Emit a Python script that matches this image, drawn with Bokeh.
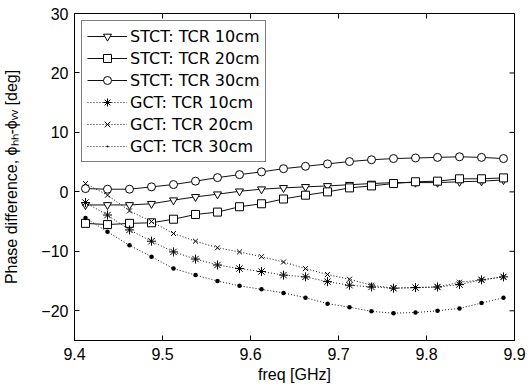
import math
from bokeh.plotting import figure
from bokeh.models import Range1d, FixedTicker, Legend
from bokeh.embed import file_html
from bokeh.resources import INLINE

freq = [9.4125 + 0.025 * i for i in range(20)]

stct_10 = [-2.2, -2.2, -2.2, -2.0, -1.4, -0.84, -0.4, 0.1, 0.45, 0.67,
           0.84, 1.0, 1.2, 1.4, 1.56, 1.56, 1.56, 1.7, 1.8, 2.0]
stct_20 = [-5.3, -5.5, -5.3, -5.2, -4.6, -3.8, -3.4, -2.5, -2.0, -1.2,
           -0.56, 0.0, 0.67, 1.0, 1.4, 1.7, 1.8, 2.2, 2.2, 2.35]
stct_30 = [0.55, 0.45, 0.45, 0.84, 1.23, 1.8, 2.4, 2.9, 3.36, 3.9,
           4.3, 4.7, 5.1, 5.4, 5.6, 5.7, 5.8, 5.9, 5.8, 5.6]
gct_10 = [-1.8, -3.9, -6.4, -8.3, -10.1, -11.3, -12.3, -12.9, -13.4, -14.0,
          -14.3, -15.1, -15.7, -16.0, -16.2, -16.1, -16.0, -15.6, -14.8, -14.3]
gct_20 = [1.4, -0.56, -3.2, -5.0, -7.0, -8.3, -9.4, -10.1, -10.9, -11.8,
          -12.9, -13.9, -14.7, -15.7, -16.2, -16.1, -16.0, -15.2, -14.8, -14.3]
gct_30 = [-4.4, -6.7, -9.0, -10.9, -12.9, -14.0, -15.0, -15.8, -16.4, -17.0,
          -17.8, -18.8, -19.4, -20.1, -20.4, -20.3, -20.0, -19.6, -18.7, -17.8]

x_ticks = [9.4, 9.5, 9.6, 9.7, 9.8, 9.9]
y_ticks = [-20, -10, 0, 10, 20, 30]
x_lo, x_hi = 9.4, 9.9
y_lo, y_hi = -25, 30

FONT = "Liberation Sans"

p = figure(width=529, height=390, output_backend="svg", toolbar_location=None,
           x_range=Range1d(x_lo, x_hi), y_range=Range1d(y_lo, y_hi),
           min_border_left=74, min_border_right=15, min_border_top=13,
           min_border_bottom=50, background_fill_color="white",
           border_fill_color="white")
p.xgrid.visible = False
p.ygrid.visible = False
p.outline_line_color = "black"
p.outline_line_width = 1

series = [
    ("STCT: TCR 10cm", stct_10, "solid", "inverted_triangle", 8, "white"),
    ("STCT: TCR 20cm", stct_20, "solid", "square", 8, "white"),
    ("STCT: TCR 30cm", stct_30, "solid", "circle", 8, "white"),
    ("GCT: TCR 10cm", gct_10, "1 2", "asterisk", 9, "white"),
    ("GCT: TCR 20cm", gct_20, "1 2", "x", 7, "white"),
    ("GCT: TCR 30cm", gct_30, "1 2", "dot", 18, "black"),
]

items = []
for name, ys, dash, marker, size, fill in series:
    r1 = p.line(freq, ys, line_color="#111111", line_width=1, line_dash=dash)
    r2 = p.scatter(freq, ys, marker=marker, size=size, line_color="black",
                   fill_color=fill, line_width=1)
    items.append((name, [r1, r2]))

# inward ticks on the top and right edges
p.ray(x_ticks, [y_hi] * len(x_ticks), length=5, length_units="screen",
      angle=-math.pi / 2, line_color="black", line_width=1)
p.ray([x_hi] * len(y_ticks), y_ticks, length=5, length_units="screen",
      angle=math.pi, line_color="black", line_width=1)

legend = Legend(items=items, location="top_left", margin=7,
                label_text_font="DejaVu Sans", label_text_font_size="16px",
                label_text_color="black", glyph_width=40, glyph_height=20,
                label_height=20, label_standoff=3,
                spacing=2, padding=5,
                border_line_color="black", border_line_width=1,
                background_fill_alpha=1)
p.add_layout(legend, "center")

for ax in [p.xaxis[0], p.yaxis[0]]:
    ax.major_tick_in = 5
    ax.major_tick_out = 0
    ax.minor_tick_line_color = None
    ax.major_label_text_font = FONT
    ax.major_label_text_font_size = "16px"
    ax.major_label_text_color = "black"
    ax.axis_label_text_font = FONT
    ax.axis_label_text_font_size = "16px"
    ax.axis_label_text_font_style = "normal"
    ax.axis_label_text_color = "black"
    ax.axis_line_color = "black"

p.xaxis[0].ticker = FixedTicker(ticks=x_ticks)
p.yaxis[0].ticker = FixedTicker(ticks=y_ticks)
p.xaxis[0].axis_label = "freq [GHz]"
p.yaxis[0].axis_label = "Phase difference, ϕₕₕ-ϕᵥᵥ [deg]"
p.xaxis[0].axis_label_standoff = 3
p.yaxis[0].axis_label_standoff = 18
p.xaxis[0].major_label_standoff = 7
p.yaxis[0].major_label_standoff = 6

open("out.html", "w").write(file_html(p, INLINE))
